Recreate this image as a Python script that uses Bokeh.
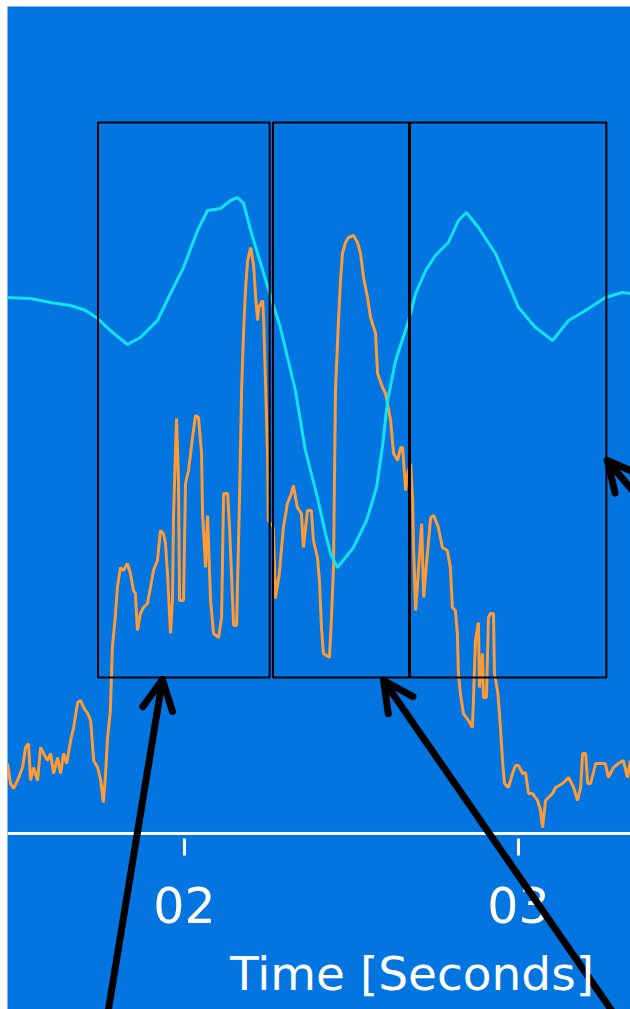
from bokeh.plotting import figure
from bokeh.models import Range1d, FixedTicker, PrintfTickFormatter, Span, Label, Arrow, OpenHead
from bokeh.embed import file_html
from bokeh.resources import INLINE

# ---- data ----
cyan_t = [1.470, 1.539, 1.599, 1.659, 1.704, 1.740, 1.778, 1.829, 1.868, 1.919, 1.958, 1.997,
          2.039, 2.069, 2.108, 2.138, 2.159, 2.177, 2.198, 2.228, 2.257, 2.287, 2.332, 2.362,
          2.398, 2.422, 2.437, 2.458, 2.506, 2.545, 2.575, 2.593, 2.608, 2.632, 2.671, 2.692,
          2.722, 2.751, 2.790, 2.820, 2.844, 2.880, 2.931, 3.000, 3.051, 3.102, 3.150, 3.201,
          3.260, 3.311, 3.335]
cyan_v = [53.6, 53.5, 53.1, 52.8, 52.3, 51.5, 50.3, 48.9, 49.6, 51.3, 54.0, 56.6,
          60.3, 62.3, 62.5, 63.3, 63.6, 63.0, 60.3, 57.0, 53.8, 50.6, 44.3, 38.3,
          33.6, 30.0, 28.0, 26.6, 28.6, 31.3, 34.6, 38.8, 43.3, 47.3, 51.3, 54.0,
          56.3, 57.8, 59.1, 61.3, 62.1, 60.6, 58.0, 52.6, 50.6, 49.3, 51.3, 52.3,
          53.6, 54.1, 54.0]

orange_t = [1.470, 1.479, 1.488, 1.500, 1.515, 1.524, 1.533, 1.539, 1.548, 1.560, 1.569, 1.578,
            1.590, 1.599, 1.608, 1.620, 1.629, 1.638, 1.647, 1.659, 1.668, 1.680, 1.689, 1.698,
            1.710, 1.719, 1.728, 1.740, 1.749, 1.757, 1.763, 1.769, 1.778, 1.784, 1.793, 1.799,
            1.808, 1.817, 1.829, 1.838, 1.847, 1.853, 1.859, 1.868, 1.877, 1.889, 1.898, 1.907,
            1.919, 1.928, 1.937, 1.943, 1.949, 1.958, 1.964, 1.967, 1.973, 1.976, 1.982, 1.985,
            1.997, 2.003, 2.012, 2.024, 2.033, 2.042, 2.051, 2.054, 2.063, 2.069, 2.078, 2.087,
            2.102, 2.111, 2.117, 2.129, 2.135, 2.147, 2.156, 2.159, 2.165, 2.171, 2.177, 2.183,
            2.189, 2.198, 2.207, 2.213, 2.219, 2.222, 2.234, 2.237, 2.243, 2.249, 2.251, 2.266,
            2.272, 2.284, 2.296, 2.308, 2.320, 2.326, 2.338, 2.350, 2.356, 2.368, 2.380, 2.386,
            2.398, 2.404, 2.410, 2.416, 2.434, 2.440, 2.446, 2.452, 2.461, 2.467, 2.473, 2.482,
            2.491, 2.506, 2.518, 2.527, 2.536, 2.548, 2.557, 2.572, 2.578, 2.593, 2.602, 2.617,
            2.626, 2.638, 2.647, 2.653, 2.662, 2.668, 2.677, 2.683, 2.686, 2.692, 2.701, 2.710,
            2.716, 2.728, 2.737, 2.746, 2.760, 2.772, 2.787, 2.796, 2.802, 2.811, 2.817, 2.820,
            2.826, 2.835, 2.850, 2.862, 2.865, 2.871, 2.880, 2.883, 2.892, 2.895, 2.904, 2.910,
            2.916, 2.925, 2.928, 2.937, 2.940, 2.946, 2.952, 2.958, 2.970, 2.982, 2.991, 3.000,
            3.012, 3.021, 3.030, 3.042, 3.057, 3.066, 3.072, 3.081, 3.090, 3.102, 3.111, 3.132,
            3.150, 3.165, 3.177, 3.186, 3.192, 3.201, 3.207, 3.216, 3.231, 3.246, 3.260, 3.269,
            3.284, 3.299, 3.314, 3.326, 3.335]
orange_v = [7.0, 5.0, 4.5, 5.3, 6.6, 8.6, 9.0, 5.3, 6.6, 5.3, 8.6, 8.0,
            7.3, 8.0, 6.0, 7.6, 6.0, 8.0, 7.0, 9.3, 10.6, 13.1, 13.3, 12.6,
            12.0, 11.3, 7.3, 6.6, 5.3, 3.1, 5.6, 9.3, 12.3, 18.6, 21.8, 24.6,
            26.6, 26.3, 27.0, 26.0, 24.3, 24.0, 20.3, 22.0, 22.6, 23.0, 24.6, 26.3,
            27.3, 30.3, 30.0, 29.0, 26.0, 20.0, 23.3, 31.6, 38.3, 41.5, 35.3, 23.3,
            23.3, 35.0, 36.3, 39.6, 41.8, 41.6, 38.0, 32.0, 26.6, 31.8, 23.3, 20.0,
            19.6, 21.6, 34.0, 34.0, 30.5, 20.8, 20.8, 25.3, 34.0, 44.5, 50.3, 54.6,
            57.3, 58.6, 56.8, 53.6, 51.3, 52.6, 53.3, 51.3, 44.6, 37.6, 31.3, 30.6,
            23.5, 26.0, 30.6, 33.0, 34.0, 34.8, 32.6, 32.0, 28.6, 32.3, 32.3, 29.3,
            27.6, 25.3, 20.6, 18.0, 17.6, 21.6, 26.6, 44.3, 51.3, 55.3, 58.0, 59.1,
            59.6, 59.8, 59.1, 58.0, 55.6, 53.6, 51.6, 50.0, 46.0, 44.6, 44.0, 41.3,
            38.0, 37.3, 38.6, 38.6, 34.3, 36.0, 37.0, 33.3, 28.3, 22.3, 26.6, 31.0,
            23.6, 28.3, 31.6, 31.8, 30.6, 28.6, 28.3, 26.6, 22.6, 22.3, 20.0, 16.0,
            14.0, 12.0, 11.3, 10.6, 13.3, 19.3, 21.1, 14.6, 18.0, 13.6, 13.6, 21.6,
            22.0, 22.0, 16.0, 14.3, 13.3, 10.6, 7.3, 5.0, 4.6, 6.0, 6.8, 6.8,
            6.0, 6.1, 4.0, 4.0, 3.3, 2.3, 0.6, 3.3, 3.6, 4.0, 4.6, 5.0,
            5.6, 4.6, 3.3, 4.6, 8.0, 8.0, 5.0, 5.0, 7.0, 7.0, 7.0, 5.6,
            6.6, 7.0, 7.3, 5.6, 7.3]

win_left = [1.741, 2.265, 2.675]
win_right = [2.255, 2.672, 3.263]
win_bottom = [15.6, 15.6, 15.6]
win_top = [71.1, 71.1, 71.1]

tick_values = [2, 3]
axis_title = "Time [Seconds]"

# arrows: (tail_t, tail_v, tip_t, tip_v)
arrows = [(1.757, -20.7, 1.934, 15.4),
          (3.341, -20.7, 2.596, 15.3),
          (3.554, 25.8, 3.266, 37.3)]

BG = "#0275E1"
CYAN = "#12E2EE"
ORANGE = "#FF9A35"
FONT = "DejaVu Sans"

p = figure(width=623, height=1003, output_backend="svg", toolbar_location=None,
           x_range=Range1d(1.470, 3.3353), y_range=Range1d(-17.6, 82.7),
           min_border_left=0, min_border_right=0, min_border_top=0, min_border_bottom=0)
p.margin = (6, 0, 0, 7)
p.background_fill_color = BG
p.border_fill_color = BG
p.outline_line_color = None
p.grid.visible = False
p.yaxis.visible = False

xa = p.xaxis[0]
xa.fixed_location = -0.5
xa.ticker = FixedTicker(ticks=tick_values)
xa.formatter = PrintfTickFormatter(format="%02d")
xa.axis_line_color = None
xa.major_tick_line_color = "white"
xa.major_tick_line_width = 3
xa.major_tick_out = 17
xa.major_tick_in = 0
xa.minor_tick_line_color = None
xa.major_label_text_color = "white"
xa.major_label_text_font = FONT
xa.major_label_text_font_size = "49px"
xa.major_label_standoff = 31

p.add_layout(Span(location=0, dimension="width", line_color="white", line_width=3))

p.line(orange_t, orange_v, line_color=ORANGE, line_width=3)
p.line(cyan_t, cyan_v, line_color=CYAN, line_width=3)
p.quad(left=win_left, right=win_right, bottom=win_bottom, top=win_top,
       fill_alpha=0, line_color="black", line_width=2)

for (x0, y0, x1, y1) in arrows:
    p.add_layout(Arrow(x_start=x0, y_start=y0, x_end=x1, y_end=y1,
                       line_color="black", line_width=7, line_cap="round",
                       end=OpenHead(size=30, line_color="black", line_width=7,
                                    line_cap="round", line_join="round")))

p.add_layout(Label(x=2.681, y=-14.0, text=axis_title, text_align="center",
                   text_baseline="alphabetic", text_color="white",
                   text_font=FONT, text_font_size="47px"))

open("out.html", "w").write(file_html(p, INLINE))
